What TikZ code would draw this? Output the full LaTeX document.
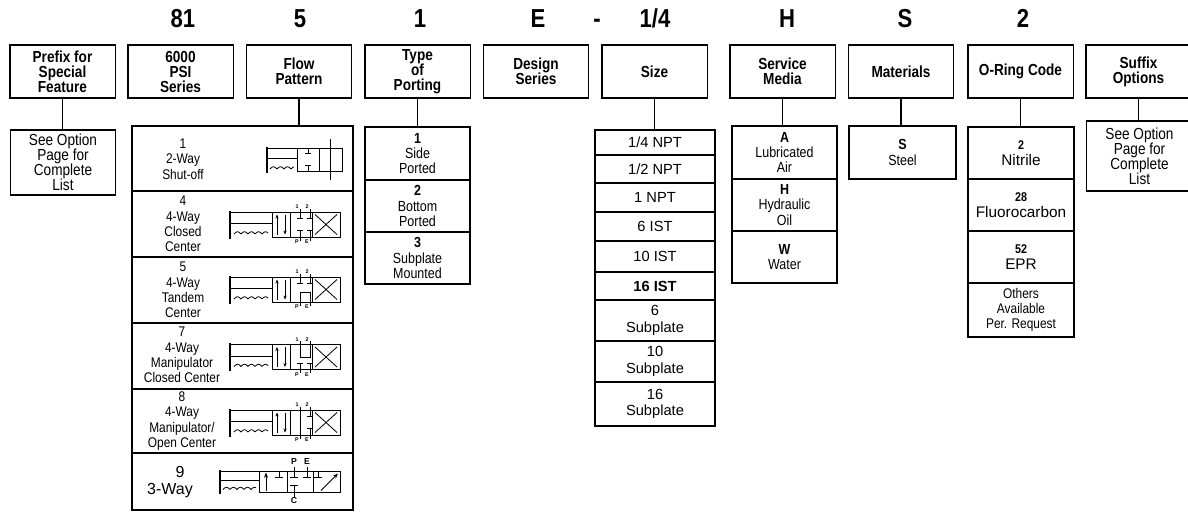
\documentclass[tikz,border=0pt]{standalone}
\usepackage{fontspec}
\setmainfont{Liberation Sans}
\newfontfamily\narrowfont{Liberation Sans}[FakeStretch=0.85]
\usetikzlibrary{arrows.meta}

\tikzset{every picture/.style={line width=0.75pt}}
\tikzset{
  codetxt/.style={inner sep=0pt, anchor=base, font=\narrowfont\bfseries\fontsize{19.5}{19.5}\selectfont},
  hdr/.style={draw, line width=1pt, inner sep=0pt, minimum width=79pt, minimum height=39.75pt, align=center, font=\narrowfont\bfseries\fontsize{12}{11.25}\selectfont},
  cell/.style={draw, line width=0.9pt, inner sep=0pt, align=center, font=\narrowfont\fontsize{11}{11.5}\selectfont},
  notecell/.style={cell, minimum width=79pt, font=\narrowfont\fontsize{12}{11.25}\selectfont},
  sizecell/.style={cell, minimum width=90pt, font=\fontsize{11}{12.5}\selectfont},
  ringcell/.style={cell, minimum width=79.5pt, font=\fontsize{11.5}{12}\selectfont},
  flowtxt/.style={align=center, inner sep=0pt, font=\narrowfont\fontsize{10.5}{11.5}\selectfont},
  widetxt/.style={inner sep=0pt, font=\fontsize{12}{12}\selectfont},
  link/.style={line width=1pt},
  sym/.style={line width=0.6pt},
  port/.style={inner sep=0pt, font=\bfseries\fontsize{4}{4}\selectfont},
  portbig/.style={inner sep=0pt, font=\bfseries\fontsize{6.5}{6.5}\selectfont},
}

% spring of an actuator: start x, y, length
\newcommand{\springline}[3]{%
  \draw[sym] plot[domain=0:#3, samples=60] ({#1+\x},{#2-2.2*abs(sin(\x*180/7))});}
% actuator box: x1, x2, half height
\newcommand{\actuator}[3]{%
  \draw[line width=1.2pt] (#1,-#3-1.5) -- (#1,#3+1.5);
  \draw[sym] (#1,-#3) -- (#2,-#3) (#1,-1) -- (#2,-1);}
% three envelopes of a 4-way valve
\newcommand{\fourwaybody}[1]{%
  \draw[sym] (272,-12.5) rectangle (340,12.5);
  \draw[sym] (290,-12.5) -- (290,12.5) (312,-12.5) -- (312,12.5);
  \draw[sym,-{Stealth[length=3pt,width=2.5pt]}] (277,10) -- (277,-10);
  \draw[sym,-{Stealth[length=3pt,width=2.5pt]}] (285,-10) -- (285,10);
  \draw[sym] (315,-10) -- (337,10) (315,10) -- (337,-10);
  \draw[sym] (300,-12.5) -- (300,-16) (310,-12.5) -- (310,-16) (300,12.5) -- (300,16) (310,12.5) -- (310,16);
  \node[port] (#1one) at (297,-17.5) {1};
  \node[port] (#1two) at (307,-17.5) {2};
  \node[port] (#1p) at (297,17.5) {P};
  \node[port] (#1e) at (307,17.5) {E};}

\begin{document}
\begin{tikzpicture}[x=0.75pt,y=0.75pt,yscale=-1,xscale=1]
	\useasboundingbox (0,0) rectangle (1188,512);
	\clip (0,0) rectangle (1188,512);

	% Text Node
	\draw (183,27) node[codetxt] (codeA) {81};
	% Text Node
	\draw (300,27) node[codetxt] (codeB) {5};
	% Text Node
	\draw (420,27) node[codetxt] (codeC) {1};
	% Text Node
	\draw (538,27) node[codetxt] (codeD) {E};
	% Text Node
	\draw (597,27) node[codetxt] (codeDash) {-};
	% Text Node
	\draw (655,27) node[codetxt] (codeE) {1/4};
	% Text Node
	\draw (787,27) node[codetxt] (codeF) {H};
	% Text Node
	\draw (905,27) node[codetxt] (codeG) {S};
	% Text Node
	\draw (1023,27) node[codetxt] (codeH) {2};

	%Shape: Rectangle [header row]
	\draw (62.5,71.5) node[hdr] (hdrPrefix) {Prefix for\\Special\\Feature};
	\draw (180.5,71.5) node[hdr] (hdrPsi) {6000\\PSI\\Series};
	\draw (299,71.5) node[hdr] (hdrFlow) {Flow\\Pattern};
	\draw (417.5,71.5) node[hdr] (hdrPort) {Type\\of\\Porting};
	\draw (536,71.5) node[hdr] (hdrDesign) {Design\\Series};
	\draw (654.5,71.5) node[hdr] (hdrSize) {Size};
	\draw (782.5,71.5) node[hdr] (hdrMedia) {Service\\Media};
	\draw (901,71.5) node[hdr] (hdrMat) {Materials};
	\draw (1020.5,71.5) node[hdr] (hdrRing) {O-Ring Code};
	\draw (1138.5,71.5) node[hdr] (hdrSuffix) {Suffix\\Options};

	%Shape: Rectangle [prefix]
	\draw (63,162.5) node[notecell, minimum height=48.75pt] (prefixSub) {See Option\\Page for\\Complete\\List};

	%Shape: Rectangle [flow pattern]
	\draw (242.5,158.5) node[cell, minimum width=165.75pt, minimum height=48.75pt] (flowA) {};
	\draw (242.5,224) node[cell, minimum width=165.75pt, minimum height=49.5pt] (flowB) {};
	\draw (242.5,290) node[cell, minimum width=165.75pt, minimum height=49.5pt] (flowC) {};
	\draw (242.5,356) node[cell, minimum width=165.75pt, minimum height=49.5pt] (flowD) {};
	\draw (242.5,421) node[cell, minimum width=165.75pt, minimum height=48pt] (flowE) {};
	\draw (242.5,481.5) node[cell, minimum width=165.75pt, minimum height=42.75pt] (flowF) {};
	% Text Node
	\draw (183,159) node[flowtxt] (flowTxtA) {1\\2-Way\\Shut-off};
	\draw (183,224) node[flowtxt] (flowTxtB) {4\\4-Way\\Closed\\Center};
	\draw (183,290) node[flowtxt] (flowTxtC) {5\\4-Way\\Tandem\\Center};
	\draw (182,355) node[flowtxt] (flowTxtD) {7\\4-Way\\Manipulator\\Closed Center};
	\draw (182,421) node[flowtxt] (flowTxtE) {8\\4-Way\\Manipulator/\\Open Center};
	\draw (180,472) node[widetxt] (flowTxtF) {9};
	\draw (170,491) node[widetxt] (flowTxtG) {3-Way};

	%Valve symbol: 2-way shut-off
	\begin{scope}[shift={(0,159.5)}]
	\actuator{267}{297}{11.5}
	\springline{270}{9.5}{24}
	\draw[sym] (297,-11.5) rectangle (342,11.5);
	\draw[sym] (319,-11.5) -- (319,11.5);
	\draw[sym] (308,-11.5) -- (308,-6) (305,-6) -- (311,-6);
	\draw[sym] (308,11.5) -- (308,6) (305,6) -- (311,6);
	\draw[sym] (330,-21) -- (330,20);
	\end{scope}
	%Valve symbol: closed center
	\begin{scope}[shift={(0,224.5)}]
	\actuator{230}{272}{12.5}
	\springline{234}{9.5}{34}
	\fourwaybody{cc}
	\draw[sym] (300,-12.5) -- (300,-6) (297,-6) -- (303,-6) (310,-12.5) -- (310,-6) (307,-6) -- (313,-6);
	\draw[sym] (300,12.5) -- (300,6) (297,6) -- (303,6) (310,12.5) -- (310,6) (307,6) -- (313,6);
	\end{scope}
	%Valve symbol: tandem center
	\begin{scope}[shift={(0,289.5)}]
	\actuator{230}{272}{12.5}
	\springline{234}{9.5}{34}
	\fourwaybody{tc}
	\draw[sym] (300,-12.5) -- (300,-6) (297,-6) -- (303,-6) (310,-12.5) -- (310,-6) (307,-6) -- (313,-6);
	\draw[sym] (300,12.5) -- (300,3) -- (310,3) -- (310,12.5);
	\end{scope}
	%Valve symbol: manipulator closed center
	\begin{scope}[shift={(0,357)}]
	\actuator{230}{272}{12.5}
	\springline{234}{9.5}{34}
	\fourwaybody{mc}
	\draw[sym] (300,-12.5) -- (300,0) -- (310,0) -- (310,-12.5);
	\draw[sym] (300,12.5) -- (300,6) (297,6) -- (303,6) (310,12.5) -- (310,6) (307,6) -- (313,6);
	\end{scope}
	%Valve symbol: manipulator open center
	\begin{scope}[shift={(0,422.5)}]
	\actuator{230}{272}{12.5}
	\springline{234}{9.5}{34}
	\fourwaybody{mo}
	\draw[sym] (300,-12.5) -- (300,12.5);
	\draw[sym] (310,-12.5) -- (310,-6) (307,-6) -- (313,-6) (310,12.5) -- (310,6) (307,6) -- (313,6);
	\end{scope}
	%Valve symbol: 3-way
	\begin{scope}[shift={(0,481.5)}]
	\actuator{220}{259}{10.5}
	\springline{223}{8}{33}
	\draw[sym] (259,-10.5) rectangle (340,10.5);
	\draw[sym] (287,-10.5) -- (287,10.5) (313,-10.5) -- (313,10.5);
	\draw[sym,-{Stealth[length=4pt,width=3pt]}] (266,9) -- (266,-9);
	\draw[sym] (279,-10.5) -- (279,-4) (275,-4) -- (283,-4);
	\draw[sym] (294,-15) -- (294,-4) (290,-4) -- (298,-4);
	\draw[sym] (307,-15) -- (307,-4) (303,-4) -- (311,-4);
	\draw[sym] (294,15) -- (294,4) (290,4) -- (298,4);
	\draw[sym] (318,-10.5) -- (318,-4) (314,-4) -- (322,-4);
	\draw[sym,-{Stealth[length=4pt,width=3pt]}] (321,9) -- (338,-8);
	\node[portbig] (lblP) at (294,-19.5) {P};
	\node[portbig] (lblE) at (307,-19.5) {E};
	\node[portbig] (lblC) at (294,19) {C};
	\end{scope}

	%Shape: Rectangle [type of porting]
	\draw (417.5,153.5) node[cell, minimum width=78.75pt, minimum height=39.75pt] (portA) {\textbf{1}\\Side\\Ported};
	\draw (417.5,206) node[cell, minimum width=78.75pt, minimum height=39pt] (portB) {\textbf{2}\\Bottom\\Ported};
	\draw (417.5,258) node[cell, minimum width=78.75pt, minimum height=39pt] (portC) {\textbf{3}\\Subplate\\Mounted};

	%Shape: Rectangle [size]
	\draw (655,142.5) node[sizecell, minimum height=18.75pt] (sizeA) {1/4 NPT};
	\draw (655,169) node[sizecell, minimum height=21pt] (sizeB) {1/2 NPT};
	\draw (655,197.5) node[sizecell, minimum height=21.75pt] (sizeC) {1 NPT};
	\draw (655,226.5) node[sizecell, minimum height=21.75pt] (sizeD) {6 IST};
	\draw (655,256.5) node[sizecell, minimum height=23.25pt] (sizeE) {10 IST};
	\draw (655,286) node[sizecell, minimum height=21pt] (sizeF) {\textbf{16 IST}};
	\draw (655,320.5) node[sizecell, minimum height=30.75pt] (sizeG) {6\\Subplate};
	\draw (655,361.5) node[sizecell, minimum height=30.75pt] (sizeH) {10\\Subplate};
	\draw (655,404) node[sizecell, minimum height=33pt] (sizeI) {16\\Subplate};

	%Shape: Rectangle [service media]
	\draw (784.5,152.5) node[cell, minimum width=78.75pt, minimum height=39.75pt] (mediaA) {\textbf{A}\\Lubricated\\Air};
	\draw (784.5,205) node[cell, minimum width=78.75pt, minimum height=39pt] (mediaB) {\textbf{H}\\Hydraulic\\Oil};
	\draw (784.5,257) node[cell, minimum width=78.75pt, minimum height=39pt] (mediaC) {\textbf{W}\\Water};

	%Shape: Rectangle [materials]
	\draw (902.5,152.5) node[cell, minimum width=80.25pt, minimum height=39.75pt] (matA) {\textbf{S}\\Steel};

	%Shape: Rectangle [o-ring code]
	\draw (1021,153) node[ringcell, minimum height=39pt] (ringA) {{\narrowfont\bfseries\fontsize{9.5}{9.5}\selectfont 2}\\Nitrile};
	\draw (1021,205) node[ringcell, minimum height=39pt] (ringB) {{\narrowfont\bfseries\fontsize{9.5}{9.5}\selectfont 28}\\Fluorocarbon};
	\draw (1021,257) node[ringcell, minimum height=39pt] (ringC) {{\narrowfont\bfseries\fontsize{9.5}{9.5}\selectfont 52}\\EPR};
	\draw (1021,310) node[cell, minimum width=79.5pt, minimum height=40.5pt, font=\narrowfont\fontsize{10.5}{11.5}\selectfont] (ringD) {Others\\Available\\Per. Request};

	%Shape: Rectangle [suffix]
	\draw (1139.5,156) node[notecell, minimum height=52.5pt] (suffixSub) {See Option\\Page for\\Complete\\List};

	%Straight Lines [connectors]
	\draw[link] (hdrPrefix.south) -- (hdrPrefix.south |- prefixSub.north);
	\draw[link] (hdrFlow.south) -- (hdrFlow.south |- flowA.north);
	\draw[link] (hdrPort.south) -- (hdrPort.south |- portA.north);
	\draw[link] (hdrSize.south) -- (hdrSize.south |- sizeA.north);
	\draw[link] (hdrMedia.south) -- (hdrMedia.south |- mediaA.north);
	\draw[link] (hdrMat.south) -- (hdrMat.south |- matA.north);
	\draw[link] (hdrRing.south) -- (hdrRing.south |- ringA.north);
	\draw[link] (hdrSuffix.south) -- (hdrSuffix.south |- suffixSub.north);

\end{tikzpicture}
\end{document}
